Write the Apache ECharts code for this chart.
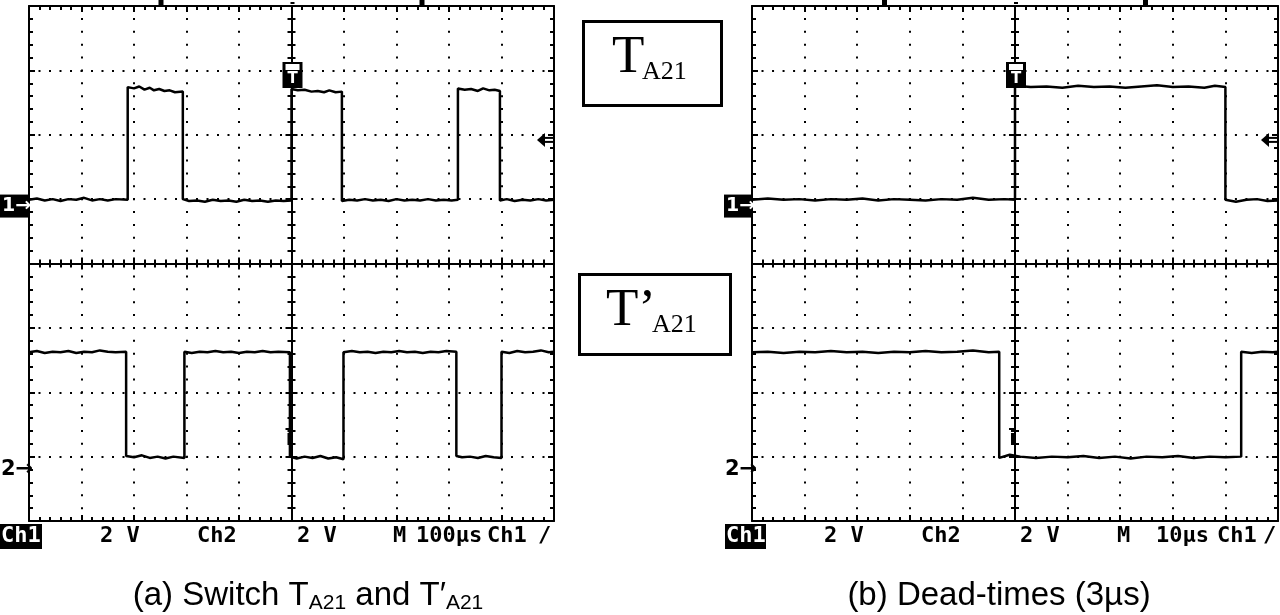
<!DOCTYPE html>
<html><head><meta charset="utf-8">
<script src="https://cdn.jsdelivr.net/npm/echarts@6/dist/echarts.min.js"></script>
<style>html,body{margin:0;padding:0;background:#fff}#c{width:1280px;height:615px}</style>
</head><body><div id="c"></div>
<script>
// ---- Data (time in µs relative to trigger, amplitude in screen divisions) ----
const spanA = 500;   // left scope half span, µs (100 µs/div)
const spanB = 50;    // right scope half span, µs (10 µs/div)
const ch1Ground = 0.9, ch2Ground = -3.2, trigLevel = 1.92;

const ch1Left = [
 [-500,0.99],[-485,1.01],[-470,0.98],[-455,1.00],[-440,0.97],[-425,1.00],[-410,0.99],[-395,1.02],[-380,0.98],[-365,1.00],[-350,0.98],[-335,1.00],[-312,0.99],
 [-312,2.74],[-300,2.72],[-290,2.75],[-280,2.70],[-270,2.73],[-262,2.69],[-252,2.71],[-242,2.68],[-232,2.69],[-222,2.66],[-207,2.67],
 [-207,1.00],[-195,0.97],[-180,0.98],[-165,0.96],[-150,0.99],[-135,0.97],[-120,0.98],[-105,0.96],[-90,0.99],[-75,0.97],[-60,0.98],[-45,0.96],[-30,0.98],[-15,0.97],[0,0.98],
 [0,2.71],[12,2.69],[25,2.70],[38,2.67],[50,2.68],[62,2.66],[72,2.69],[84,2.66],[96,2.67],
 [96,0.97],[110,0.99],[125,0.98],[140,1.00],[155,0.98],[170,0.99],[185,0.97],[200,1.00],[215,0.98],[230,0.99],[245,0.98],[260,1.00],[275,0.98],[290,0.99],[305,0.98],[317,0.99],
 [317,2.72],[330,2.70],[342,2.71],[355,2.68],[365,2.72],[377,2.69],[387,2.70],[397,2.68],
 [397,0.98],[410,1.00],[425,0.97],[440,0.99],[455,0.98],[470,1.00],[485,0.98],[500,0.99]
];
const ch2Left = [
 [-500,-1.38],[-485,-1.36],[-470,-1.39],[-455,-1.37],[-440,-1.38],[-425,-1.36],[-410,-1.39],[-395,-1.37],[-380,-1.38],[-365,-1.35],[-350,-1.37],[-335,-1.38],[-315,-1.37],
 [-315,-2.99],[-300,-3.01],[-285,-2.98],[-270,-3.02],[-255,-3.00],[-240,-3.03],[-225,-3.00],[-204,-3.02],
 [-204,-1.37],[-190,-1.39],[-175,-1.37],[-160,-1.38],[-145,-1.36],[-130,-1.38],[-115,-1.37],[-100,-1.39],[-85,-1.37],[-70,-1.38],[-55,-1.36],[-40,-1.38],[-25,-1.37],[-3,-1.38],
 [-3,-3.00],[10,-3.03],[25,-3.00],[40,-3.02],[55,-2.99],[70,-3.03],[85,-3.01],[99,-3.04],
 [99,-1.38],[115,-1.36],[130,-1.38],[145,-1.37],[160,-1.39],[175,-1.37],[190,-1.38],[205,-1.36],[220,-1.38],[235,-1.37],[250,-1.39],[265,-1.37],[280,-1.38],[295,-1.36],[314,-1.37],
 [314,-2.99],[325,-3.01],[340,-3.00],[355,-3.02],[370,-2.99],[385,-3.01],[400,-3.02],
 [400,-1.37],[415,-1.39],[430,-1.36],[445,-1.38],[460,-1.37],[475,-1.35],[490,-1.38],[500,-1.37]
];
const ch1Right = [
 [-50,0.99],[-47,1.01],[-44,0.99],[-41,1.00],[-38,0.98],[-35,1.00],[-32,0.99],[-29,1.01],[-26,0.98],[-23,1.00],[-20,0.99],[-17,0.98],[-14,1.00],[-11,0.99],[-8,1.02],[-5,0.99],[-2,1.00],[0,0.99],
 [0,2.76],[3,2.74],[6,2.75],[9,2.73],[12,2.76],[15,2.74],[18,2.75],[21,2.73],[24,2.75],[27,2.77],[30,2.74],[33,2.75],[36,2.73],[38,2.76],[40,2.74],
 [40,0.99],[42,0.96],[44,0.99],[46,1.00],[48,0.97],[50,0.98]
];
const ch2Right = [
 [-50,-1.38],[-47,-1.37],[-44,-1.39],[-41,-1.37],[-38,-1.38],[-35,-1.36],[-32,-1.38],[-29,-1.37],[-26,-1.39],[-23,-1.37],[-20,-1.38],[-17,-1.36],[-14,-1.38],[-11,-1.37],[-8,-1.35],[-5,-1.38],[-3,-1.37],
 [-3,-3.02],[-1,-2.97],[1,-3.00],[4,-3.02],[7,-3.00],[10,-3.01],[13,-2.99],[16,-3.02],[19,-3.00],[22,-3.03],[25,-3.00],[28,-3.01],[31,-2.99],[34,-3.02],[37,-3.00],[40,-3.01],[43,-3.00],
 [43,-1.37],[45,-1.39],[47,-1.37],[49,-1.38],[50,-1.37]
];
const bottomLeftTexts = [['2 V',100],['Ch2',197],['2 V',297],['M',393],['100µs',416],['Ch1',487],['/',538]];
const bottomRightTexts = [['2 V',824],['Ch2',921],['2 V',1020],['M',1117],['10µs',1156],['Ch1',1217],['/',1263]];

// ---- Chart ----
const K = '#000';
function frameAxis(g, pos, min, max, interval, split, dash) {
  return {
    gridIndex: g, type: 'value', min: min, max: max, interval: interval, position: pos,
    axisLine: {show: true, onZero: false, lineStyle: {color: K, width: 2}},
    axisTick: {show: true, inside: true, length: 6, lineStyle: {color: K, width: 2}},
    minorTick: {show: true, splitNumber: 5, length: 4, lineStyle: {color: K, width: 2}},
    axisLabel: {show: false},
    splitLine: {show: split, lineStyle: {color: K, width: 2, type: dash, dashOffset: 1}},
    minorSplitLine: {show: false}
  };
}
function centerAxis(g, pos, min, max, interval, inside) {
  return {
    gridIndex: g, type: 'value', min: min, max: max, interval: interval, position: pos,
    axisLine: {show: true, onZero: true, lineStyle: {color: K, width: 2}},
    axisTick: {show: true, inside: inside, length: 6, lineStyle: {color: K, width: 2}},
    minorTick: {show: true, splitNumber: 5, length: 4, lineStyle: {color: K, width: 2}},
    axisLabel: {show: false}, splitLine: {show: false}, minorSplitLine: {show: false}
  };
}
const xAxes = [], yAxes = [];
[[0, spanA, 52.5], [1, spanB, 52.6]].forEach(function (s) {
  const g = s[0], R = s[1], dv = s[2];
  xAxes.push(frameAxis(g, 'bottom', -R, R, R / 5, true, [2, 64.375 / 5 - 2]));
  xAxes.push(frameAxis(g, 'top', -R, R, R / 5, false, 'solid'));
  xAxes.push(centerAxis(g, 'bottom', -R, R, R / 5, true));
  xAxes.push(centerAxis(g, 'bottom', -R, R, R / 5, false));
  yAxes.push(frameAxis(g, 'left', -4, 4, 1, true, [2, dv / 5 - 2]));
  yAxes.push(frameAxis(g, 'right', -4, 4, 1, false, 'solid'));
  yAxes.push(centerAxis(g, 'left', -4, 4, 1, true));
  yAxes.push(centerAxis(g, 'left', -4, 4, 1, false));
});
function trace(data, xi) {
  return {type: 'line', data: data, xAxisIndex: xi, yAxisIndex: xi, showSymbol: false, symbol: 'none',
    lineStyle: {color: K, width: 2.5}, z: 5, clip: false, silent: true};
}
const chart = echarts.init(document.getElementById('c'), null, {renderer: 'canvas'});
chart.setOption({
  animation: false, backgroundColor: '#fff',
  grid: [{left: 29, top: 6, width: 525, height: 515}, {left: 752, top: 6, width: 526, height: 515}],
  xAxis: xAxes, yAxis: yAxes,
  series: [trace(ch1Left, 0), trace(ch2Left, 0), trace(ch1Right, 4), trace(ch2Right, 4)]
});

// ---- Annotations ----
const els = [];
const mono = 'bold 22px "DejaVu Sans Mono"';
function txt(t, x, y, font, fill, align) {
  els.push({type: 'text', x: x, y: y, z: 20, style: {text: t, font: font, fill: fill || K,
    align: align || 'left', verticalAlign: 'middle', textAlign: align || 'left', textVerticalAlign: 'middle'}});
}
function rect(x, y, w, h, fill, stroke, lw) {
  els.push({type: 'rect', z: 19, shape: {x: x, y: y, width: w, height: h},
    style: {fill: fill || 'none', stroke: stroke || null, lineWidth: lw || 0}});
}
[[0, 0], [4, 724]].forEach(function (s) {
  const ai = s[0], left = s[1];
  const p1 = chart.convertToPixel({xAxisIndex: ai, yAxisIndex: ai}, [0, ch1Ground]);
  const p2 = chart.convertToPixel({xAxisIndex: ai, yAxisIndex: ai}, [0, ch2Ground]);
  const pt = chart.convertToPixel({xAxisIndex: ai, yAxisIndex: ai}, [0, trigLevel]);
  const right = chart.convertToPixel({xAxisIndex: ai, yAxisIndex: ai}, [ai ? spanB : spanA, 0])[0];
  const cx = p1[0];
  // channel 1 ground marker
  rect(left, p1[1] - 11, 28, 23, K);
  txt('1→', left + 2, p1[1] + 0.5, 'bold 19px "DejaVu Sans"', '#fff');
  // channel 2 ground marker
  txt('2→', left + 1, p2[1], 'bold 21px "DejaVu Sans"', K);
  // trigger level arrow
  els.push({type: 'polygon', z: 20, shape: {points: [[right - 17, pt[1]], [right - 9, pt[1] - 7], [right - 9, pt[1] + 7]]}, style: {fill: K}});
  rect(right - 10, pt[1] - 3, 9, 2, K);
  rect(right - 10, pt[1] + 1, 9, 2, K);
  // trigger position marker
  rect(cx - 9, 62, 20, 26, K);
  rect(cx - 6, 64, 14, 6, '#fff');
  txt('T', cx + 1, 79, 'bold 15px "DejaVu Sans"', '#fff', 'center');
  // small markers on top border and lower area
  rect(cx - 133, 0, 5, 5, K);
  rect(cx + 128, 0, 5, 5, K);
  rect(cx - 1, 2, 4, 2, K);
  rect(cx - 4, 433, 4, 10, K);
  rect(cx - 6, 428, 6, 2, K);
});
// inverted "Ch1" labels
rect(0, 524, 42, 25, K);
rect(725, 524, 41, 25, K);
txt('Ch1', 1, 536, mono, '#fff');
txt('Ch1', 726, 536, mono, '#fff');
bottomLeftTexts.forEach(function (t) { txt(t[0], t[1], 536, mono, K); });
bottomRightTexts.forEach(function (t) { txt(t[0], t[1], 536, mono, K); });

// Signal label boxes
rect(583.5, 21.5, 138, 84, '#fff', K, 3);
txt('T', 612, 58, '53px "Liberation Serif"', K);
txt('A21', 642, 72, '26px "Liberation Serif"', K);
rect(579.5, 274.5, 151, 80, '#fff', K, 3);
txt('T’', 606, 311, '53px "Liberation Serif"', K);
txt('A21', 652, 325, '26px "Liberation Serif"', K);

// Captions
const capRich = {
  n: {fontFamily: 'Liberation Sans', fontSize: 33, fill: K},
  s: {fontFamily: 'Liberation Sans', fontSize: 21, fill: K, padding: [15, 0, 0, 0]}
};
els.push({type: 'text', x: 308, y: 596, z: 20, style: {
  text: '{n|(a) Switch T}{s|A21}{n| and T′}{s|A21}', rich: capRich,
  align: 'center', verticalAlign: 'middle', textAlign: 'center', textVerticalAlign: 'middle'}});
els.push({type: 'text', x: 999, y: 596, z: 20, style: {
  text: '{n|(b) Dead-times (3µs)}', rich: capRich,
  align: 'center', verticalAlign: 'middle', textAlign: 'center', textVerticalAlign: 'middle'}});

chart.setOption({graphic: {elements: els}});
</script>
</body></html>
